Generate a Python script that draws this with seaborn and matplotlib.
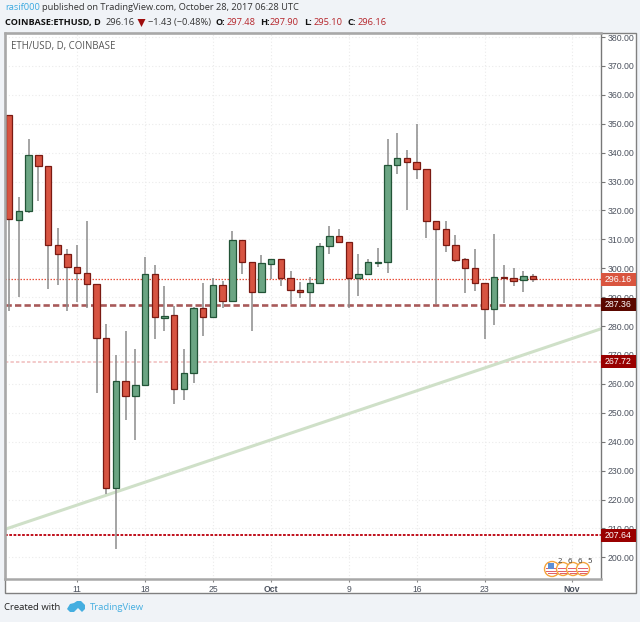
import matplotlib
matplotlib.use("Agg")
import matplotlib.pyplot as plt
from matplotlib.patches import Circle, Polygon, Rectangle
import numpy as np
import pandas as pd
import seaborn as sns

# daily candles, Sep 4 to Oct 28 2017
opens = [352.9, 316.7, 319.9, 339.2, 335.4, 308.0, 304.8, 300.3, 298.5, 294.6, 275.8,
         224.1, 260.9, 255.9, 259.6, 297.9, 282.9, 283.7, 258.1, 263.9, 286.2, 283.2,
         294.2, 288.7, 309.8, 302.2, 291.9, 301.6, 303.2, 296.5, 292.4, 291.9, 294.8,
         307.7, 311.2, 309.0, 296.7, 297.9, 301.9, 302.3, 335.7, 338.0, 336.8, 334.3,
         316.3, 313.5, 308.0, 303.2, 300.1, 295.0, 285.8, 296.9, 296.6, 295.8, 297.48]
closes = [317.0, 319.8, 339.2, 335.5, 308.0, 304.8, 300.3, 298.5, 294.6, 275.8, 224.1,
          260.9, 255.9, 259.6, 297.9, 283.0, 283.6, 258.1, 263.9, 286.2, 283.3, 294.2,
          288.7, 309.8, 302.2, 291.9, 301.7, 303.2, 296.6, 292.5, 291.9, 294.8, 307.7,
          311.2, 309.0, 296.7, 298.0, 302.1, 302.3, 335.7, 338.0, 336.8, 334.3, 316.3,
          313.5, 308.0, 303.0, 300.1, 295.0, 285.8, 296.9, 296.5, 295.7, 297.4, 296.16]
highs = [352.9, 324.8, 344.7, 339.2, 335.4, 313.8, 306.6, 308.0, 316.3, 294.6, 280.7,
         270.0, 278.3, 272.0, 303.8, 301.1, 293.9, 287.0, 272.0, 286.5, 294.9, 296.5,
         295.6, 312.9, 309.8, 302.2, 304.6, 303.2, 303.2, 299.0, 295.2, 296.9, 308.7,
         314.6, 313.5, 309.0, 304.8, 303.1, 306.9, 344.7, 346.9, 340.9, 349.8, 334.3,
         316.3, 316.3, 311.5, 303.7, 306.6, 295.0, 311.8, 301.0, 300.0, 299.0, 297.9]
lows = [285.3, 290.2, 319.2, 323.3, 293.0, 294.2, 285.3, 288.2, 286.4, 256.7, 221.8,
        202.8, 247.5, 240.6, 259.6, 275.4, 278.4, 253.0, 254.4, 260.4, 276.6, 283.2,
        286.4, 288.7, 298.0, 278.4, 291.9, 296.2, 293.9, 287.6, 289.8, 286.7, 294.5,
        304.8, 309.0, 286.2, 290.5, 297.9, 300.6, 298.5, 332.5, 320.2, 330.9, 310.6,
        287.6, 305.5, 302.3, 291.6, 292.1, 275.6, 280.5, 288.1, 294.0, 291.9, 295.1]

y_ticks = list(range(200, 390, 10))
x_tick_days = [7, 14, 21, 27, 35, 42, 49, 58]
x_tick_labels = ["11", "18", "25", "Oct", "9", "16", "23", "Nov"]

# horizontal price levels: value, line colour, style, width, box colour
levels = [296.16, 287.36, 267.72, 207.64]
level_colors = ["#e8503c", "#a85a5a", "#f0bcbc", "#c0101c"]
level_styles = [(0, (1.2, 1.2)), (0, (2.4, 1.2)), (0, (2.2, 1.4)), (0, (1.4, 0.8))]
level_widths = [0.9, 1.9, 1.1, 1.4]
box_colors = ["#d9553f", "#5a0800", "#990000", "#990000"]

trend_days = [-0.44, 60.95]
trend_prices = [209.7, 279.0]

df = pd.DataFrame({"day": range(len(opens)), "open": opens, "close": closes})
df["lo"] = df[["open", "close"]].min(axis=1)
df["size"] = (df["open"] - df["close"]).abs()
up = df[df["close"] >= df["open"]]
down = df[df["close"] < df["open"]]

sns.set_theme(style="white")
plt.rcParams["font.family"] = ["Open Sans", "DejaVu Sans"]

W, H = 640, 622
fig = plt.figure(figsize=(W / 100, H / 100), dpi=100, facecolor="#f0f3f7")

# chrome layer in pixel coordinates, behind the chart
bg = fig.add_axes([0, 0, 1, 1], zorder=0)
bg.set_xlim(0, W)
bg.set_ylim(H, 0)
bg.axis("off")
bg.add_patch(Rectangle((4.5, 32.5), 631, 560, fc="white", ec="#808080", lw=1))

ax = fig.add_axes([5 / W, 1 - 579 / H, 595.5 / W, 546 / H], zorder=1)
ax.patch.set_alpha(0)

for lvl, c, ls, lw in zip(levels, level_colors, level_styles, level_widths):
    ax.axhline(lvl, color=c, linestyle=ls, lw=lw, zorder=0.8)
sns.lineplot(x=trend_days, y=trend_prices, color="#cfe0c8", lw=2.2, ax=ax, zorder=0.9)

ax.vlines(df["day"], lows, highs, color="#8c8c8c", lw=1.1, zorder=0.95)
sns.barplot(x=up["day"], y=up["size"], bottom=up["lo"], native_scale=True, width=0.66,
            color="#6ba583", saturation=1, edgecolor="#225437", linewidth=0.9, ax=ax)
sns.barplot(x=down["day"], y=down["size"], bottom=down["lo"], native_scale=True, width=0.66,
            color="#d75442", saturation=1, edgecolor="#7a1a12", linewidth=0.9, ax=ax)

ax.set_xlim(-0.443, 60.95)
ax.set_ylim(192.5, 381.4)
ax.set_xlabel("")
ax.set_ylabel("")

ax.yaxis.tick_right()
ax.set_yticks(y_ticks)
ax.set_yticklabels(["%.2f" % v for v in y_ticks], fontsize=6.3, color="#4c525e",
                   family=["Liberation Sans"])
ax.set_xticks(x_tick_days)
ax.set_xticklabels(x_tick_labels, fontsize=6.2, color="#4c525e", family=["Liberation Sans"])
for lab in ax.get_xticklabels():
    if lab.get_text() in ("Oct", "Nov"):
        lab.set_fontweight("bold")
ax.tick_params(axis="y", length=3, width=0.8, color="#777777", pad=2, right=True, left=False)
ax.tick_params(axis="x", length=2, width=0.8, color="#888888", pad=2, bottom=True)
ax.grid(True, color="#ebebeb", linestyle=(0, (1, 2)), lw=0.8)
ax.set_axisbelow(True)

ax.spines["left"].set(color="#a8a8a8", lw=1.8)
ax.spines["top"].set(color="#a8a8a8", lw=1.8)
ax.spines["bottom"].set(color="#a8a8a8", lw=1.8)
ax.spines["right"].set(color="#777777", lw=1)

# price boxes on the right axis
for lvl, c in zip(levels, box_colors):
    ax.add_patch(Rectangle((1.0, lvl - 2.25), 35 / 595.5, 4.5, transform=ax.get_yaxis_transform(),
                           fc=c, ec="none", clip_on=False, zorder=5))
    ax.text(1.0 + 17.5 / 595.5, lvl, "%.2f" % lvl, transform=ax.get_yaxis_transform(), color="white",
            fontsize=6.3, ha="center", va="center", family=["Liberation Sans"], zorder=6, clip_on=False)

ax.text(6 / 595.5, 1 - 13 / 546, "ETH/USD, D, COINBASE", transform=ax.transAxes,
        fontsize=6.9, color="#555555", va="center")

# top layer for header, footer and badge
top = fig.add_axes([0, 0, 1, 1], zorder=2)
top.set_xlim(0, W)
top.set_ylim(H, 0)
top.axis("off")
top.patch.set_alpha(0)


def label(x, y, s, **kw):
    kw.setdefault("fontsize", 6.7)
    kw.setdefault("color", "#333333")
    top.text(x, y, s, va="center", **kw)


label(5, 8, "rasif000", color="#3ba9e0")
label(42, 8, "published on TradingView.com, October 28, 2017 06:28 UTC")
label(5, 22.5, "COINBASE:ETHUSD, D", fontweight="bold", color="#111111", fontsize=6.6)
label(105.5, 22.5, "296.16")
top.add_patch(Polygon([[137.5, 19], [145.5, 19], [141.5, 27]], fc="#9e0d0d", ec="none"))
label(148, 22.5, "\u22121.43 (\u22120.48%)")
for x, s in [(216, "O:"), (260, "H:"), (304, "L:"), (347, "C:")]:
    label(x, 22.5, s, fontweight="bold", color="#111111", fontsize=6.6)
for x, s in [(227, "297.48"), (270, "297.90"), (314, "295.10"), (358, "296.16")]:
    label(x, 22.5, s, color="#b5242a")

label(4, 608, "Created with", fontsize=6.8, color="#222222")
label(90, 608, "TradingView", fontsize=6.8, color="#45aee0")
top.add_patch(Polygon([[67, 609], [70, 604], [74, 603], [77, 601], [81, 601], [85, 605], [85, 609],
                       [82, 612], [78, 608], [74, 612], [70, 612]], fc="#45aee0", ec="none"))

for cx, r in [(552, 7.5), (563, 6.5), (573, 6.5), (583, 6.5)]:
    top.add_patch(Circle((cx, 569), r, fc="white", ec="#f5a43c", lw=1))
    top.add_patch(Rectangle((cx - r + 1.5, 567.5), 2 * r - 3, 1.6, fc="#e0606a", ec="none"))
    top.add_patch(Rectangle((cx - r + 1.5, 570.5), 2 * r - 3, 1.6, fc="#e0606a", ec="none"))
    top.add_patch(Rectangle((cx - r + 3, 573), 2 * r - 6, 1.4, fc="#e0606a", ec="none"))
top.add_patch(Rectangle((548, 563), 6, 6, fc="#5b8fd6", ec="none"))
for x, s in [(560, "2"), (570, "6"), (580, "6"), (589.5, "5")]:
    top.text(x, 561.8, s, fontsize=5.6, ha="center", va="center", color="#333333")

fig.savefig("out.png", dpi=100, facecolor=fig.get_facecolor())
